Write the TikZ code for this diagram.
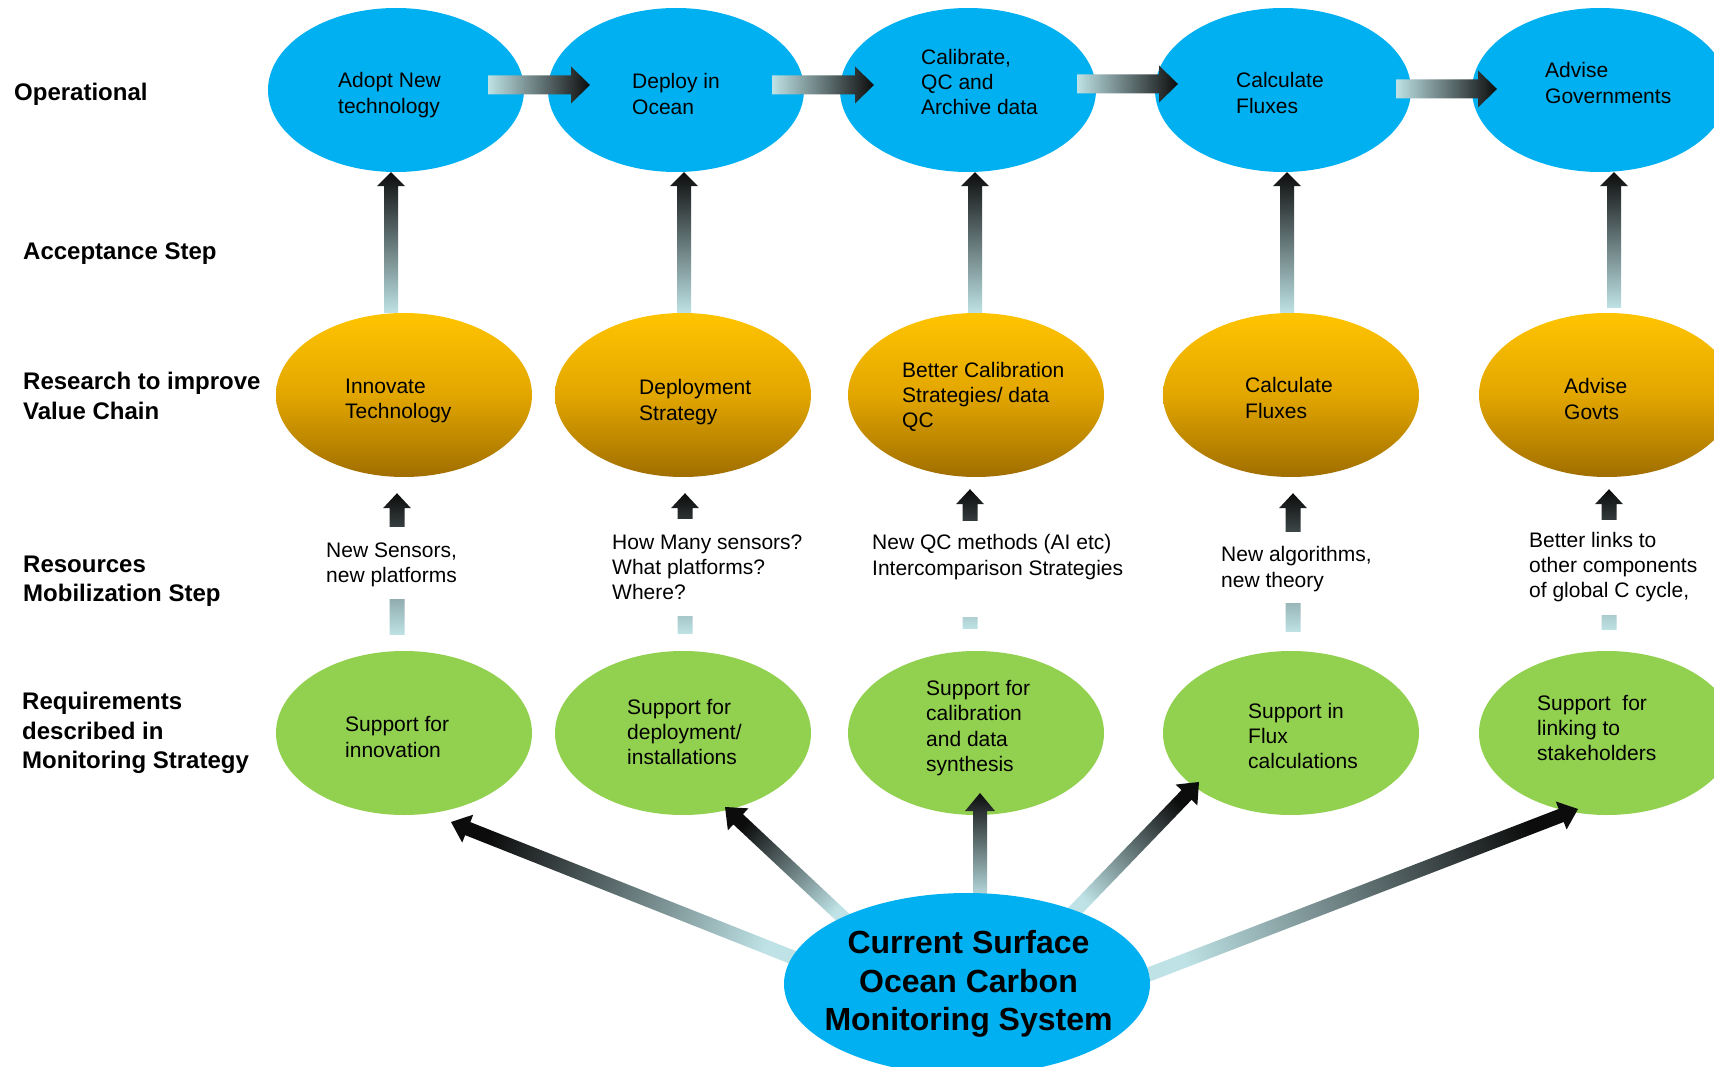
\documentclass[tikz,border=0pt]{standalone}
\usepackage{fontspec}
\setmainfont{Liberation Sans}
\usetikzlibrary{shapes.geometric,calc}
\pgfdeclarelayer{bg}
\pgfdeclarelayer{fg}
\pgfdeclarelayer{top}
\pgfsetlayers{bg,main,fg,top}
\definecolor{skyb}{RGB}{0,176,240}
\definecolor{grn}{RGB}{146,208,80}
\definecolor{or1}{RGB}{255,196,0}
\definecolor{or2}{RGB}{226,166,0}
\definecolor{or3}{RGB}{160,110,0}
\definecolor{arlight}{RGB}{190,226,229}
\definecolor{ardark}{RGB}{12,12,12}
% block arrow: start, end, shaft half width, head half width, head length
\newcommand\barrow[5]{%
  \path #1 coordinate (bA) #2 coordinate (bB);
  \path ($(bB)!#5!(bA)$) coordinate (bH);
  \path let \p1=($(bB)-(bA)$), \n1={atan2(\y1,\x1)} in \pgfextra{\xdef\barang{\n1}};
  \pgfmathsetmacro\shang{\barang-90}
  \shade[top color=ardark, bottom color=arlight, shading angle=\shang]
    ($(bA)!#3!90:(bB)$) -- ($(bH)!#3!-90:(bA)$) -- ($(bH)!#4!-90:(bA)$) -- (bB)
    -- ($(bH)!#4!90:(bA)$) -- ($(bH)!#3!90:(bA)$) -- ($(bA)!#3!-90:(bB)$) -- cycle;
}
\tikzset{
  ell/.style={ellipse, minimum width=256pt, minimum height=164pt, inner sep=0pt, draw=none},
  blueell/.style={ell, fill=skyb},
  orell/.style={ell, top color=or1, bottom color=or3, middle color=or2},
  grell/.style={ell, fill=grn},
  txt/.style={font=\fontsize{21}{25.2}\selectfont, align=left, inner sep=0pt, anchor=west, text=black},
  lbl/.style={font=\bfseries\fontsize{24}{29.5}\selectfont, align=left, inner sep=0pt, anchor=west},
  wbox/.style={fill=white, draw=none, inner sep=0pt},
}
\begin{document}
\begin{tikzpicture}[x=1pt,y=-1pt]
\useasboundingbox (0,0) rectangle (1714,1067);
\begin{pgfonlayer}{bg}
\fill[white] (0,0) rectangle (1714,1067);
\end{pgfonlayer}

% row labels
\node[lbl] (l1) at (14,94) {Operational};
\node[lbl] (l2) at (23,254) {Acceptance Step};
\node[lbl] (l3) at (23,396) {Research to improve\\Value Chain};
\node[lbl] (l4) at (23,581) {Resources\\Mobilization Step};
\node[lbl] (l5) at (22,733) {Requirements\\described in\\Monitoring Strategy};

% operational (blue)
\node[blueell] (b1) at (396,90) {};
\node[blueell] (b2) at (676,90) {};
\node[blueell] (b3) at (968,90) {};
\node[blueell] (b4) at (1283,90) {};
\node[blueell] (b5) at (1600,90) {};
\node[txt] (tb1) at (338,95) {Adopt New\\technology};
\node[txt] (tb2) at (632,94) {Deploy in\\Ocean};
\node[txt] (tb3) at (921,82) {Calibrate,\\QC and\\Archive data};
\node[txt] (tb4) at (1236,93) {Calculate\\Fluxes};
\node[txt] (tb5) at (1545,83) {Advise\\Governments};

% research (orange)
\node[orell] (o1) at (404,395) {};
\node[orell] (o2) at (683,395) {};
\node[orell] (o3) at (976,395) {};
\node[orell] (o4) at (1291,395) {};
\node[orell] (o5) at (1607,395) {};
\node[txt] (to1) at (345,401) {Innovate\\Technology};
\node[txt] (to2) at (639,402) {Deployment\\Strategy};
\node[txt] (to3) at (902,397) {Better Calibration\\Strategies/ data\\QC};
\node[txt] (to4) at (1245,398) {Calculate\\Fluxes};
\node[txt] (to5) at (1564,399) {Advise\\Govts};

% requirements (green)
\node[grell] (g1) at (404,733) {};
\node[grell] (g2) at (683,733) {};
\node[grell] (g3) at (976,733) {};
\node[grell] (g4) at (1291,733) {};
\node[grell] (g5) at (1607,733) {};
\node[txt] (tg1) at (345,737) {Support for\\innovation};
\node[txt] (tg2) at (627,732) {Support for\\deployment/\\installations};
\node[txt] (tg3) at (926,728) {Support for\\calibration\\and data\\synthesis};
\node[txt] (tg4) at (1248,736) {Support in\\Flux\\calculations};
\node[txt] (tg5) at (1537,728) {Support\ \ for\\linking to\\stakeholders};

\begin{pgfonlayer}{top}
% central system
\node[ellipse, fill=skyb, minimum width=366pt, minimum height=182pt, inner sep=0pt] (c) at (967,984) {};
\node[font=\bfseries\fontsize{32}{38.3}\selectfont, align=center, inner sep=0pt] (ct) at (968.5,984) {Current Surface\\Ocean Carbon\\Monitoring System};

% resource mobilisation boxes
\node[wbox, minimum width=160pt, minimum height=72pt] (w1) at (390,563) {};
\node[wbox, minimum width=219pt, minimum height=97pt] (w2) at (705,567.5) {};
\node[wbox, minimum width=282pt, minimum height=96pt] (w3) at (994,569) {};
\node[wbox, minimum width=193pt, minimum height=71pt] (w4) at (1298,567.5) {};
\node[wbox, minimum width=210pt, minimum height=95pt] (w5) at (1617,567.5) {};
\node[txt] (tr1) at (326,565) {New Sensors,\\new platforms};
\node[txt] (tr2) at (612,567) {How Many sensors?\\What platforms?\\Where?};
\node[txt] (tr3) at (872,557) {New QC methods (AI etc)\\Intercomparison Strategies};
\node[txt] (tr4) at (1221,569) {New algorithms,\\new theory};
\node[txt] (tr5) at (1529,567) {Better links to\\other components\\of global C cycle,};
\end{pgfonlayer}

\begin{pgfonlayer}{fg}
% operational chain
\barrow{($(b1.center)+(92,-5)$)}{($(b2.center)+(-86,-5)$)}{9.5pt}{18.5pt}{19pt}
\barrow{($(b2.center)+(96,-5)$)}{($(b3.center)+(-94,-5)$)}{9.5pt}{18.5pt}{19pt}
\barrow{($(b3.center)+(109,-6)$)}{($(b4.center)+(-105,-6)$)}{9.5pt}{18.5pt}{19pt}
\barrow{($(b4.center)+(113,-1)$)}{($(b5.center)+(-103,-1)$)}{9.5pt}{18.5pt}{19pt}
% acceptance
\barrow{($(o1.north)+(-13,0)$)}{($(b1.south)+(-5,0)$)}{7pt}{14pt}{14pt}
\barrow{($(o2.north)+(1,0)$)}{($(b2.south)+(8,0)$)}{7pt}{14pt}{14pt}
\barrow{($(o3.north)+(-1,0)$)}{($(b3.south)+(7,0)$)}{7pt}{14pt}{14pt}
\barrow{($(o4.north)+(-4,0)$)}{($(b4.south)+(4,0)$)}{7pt}{14pt}{14pt}
\barrow{($(o5.north)+(7,-5)$)}{($(b5.south)+(14,0)$)}{7pt}{14pt}{14pt}
% resources mobilisation
\barrow{($(g1.north)+(-7,-16)$)}{($(o1.south)+(-7,16)$)}{7.5pt}{14pt}{15pt}
\barrow{($(g2.north)+(2,-17)$)}{($(o2.south)+(2,16)$)}{7.5pt}{14pt}{15pt}
\barrow{($(g3.north)+(-6,-22)$)}{($(o3.south)+(-6,12)$)}{7.5pt}{14pt}{15pt}
\barrow{($(g4.north)+(2,-19)$)}{($(o4.south)+(2,16)$)}{7.5pt}{14pt}{15pt}
\barrow{($(g5.north)+(2,-21)$)}{($(o5.south)+(2,12)$)}{7.5pt}{14pt}{15pt}
% from the system
\barrow{($(c.center)+(-165,-23)$)}{($(g1.center)+(47,89)$)}{7pt}{15pt}{18pt}
\barrow{($(c.center)+(-117,-60)$)}{($(g2.center)+(42,74)$)}{7pt}{15pt}{18pt}
\barrow{($(c.center)+(13,-84)$)}{($(g3.center)+(4,60)$)}{7pt}{15pt}{18pt}
\barrow{($(c.center)+(103,-68)$)}{($(g4.center)+(-92,49)$)}{7pt}{15pt}{18pt}
\barrow{($(c.center)+(170,-5)$)}{($(g5.center)+(-29,76)$)}{7pt}{15pt}{18pt}
\end{pgfonlayer}
\end{tikzpicture}
\end{document}
